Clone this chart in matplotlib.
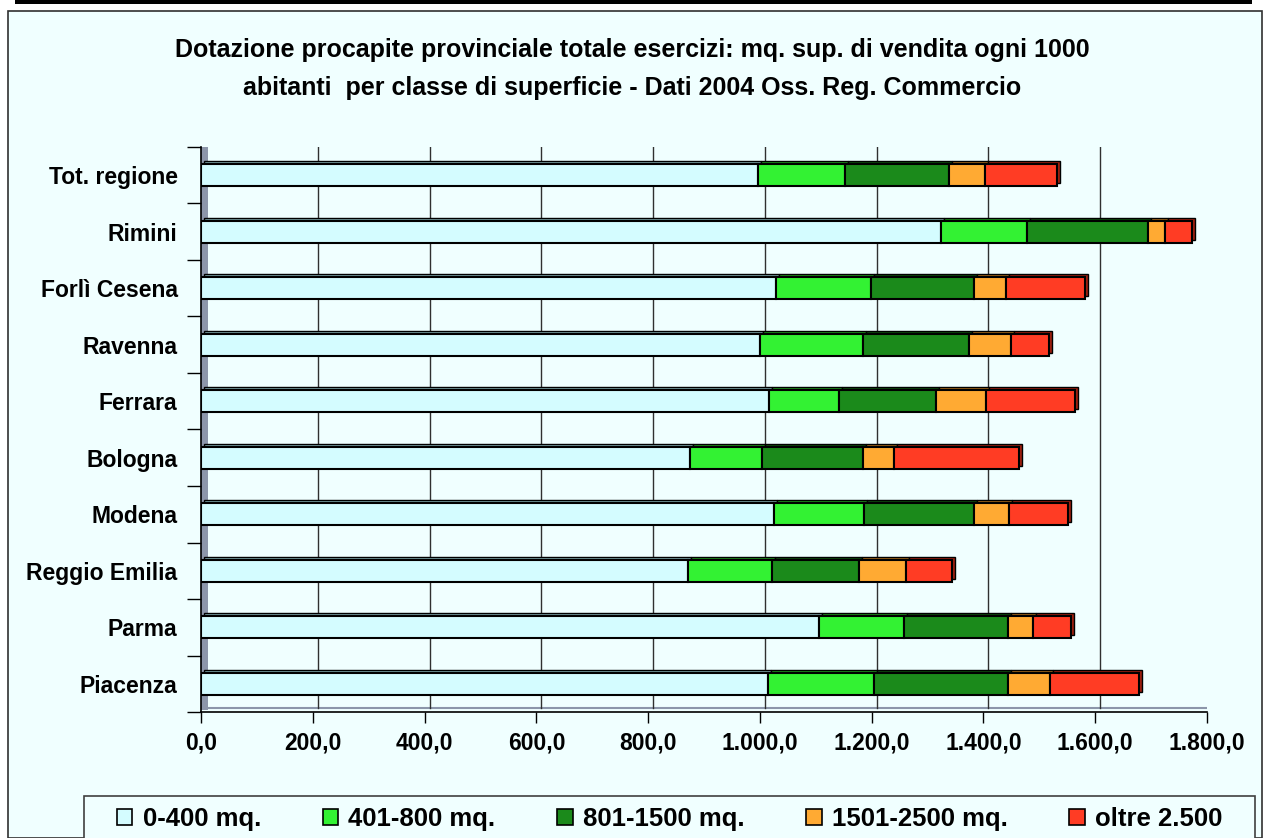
import matplotlib
matplotlib.use("Agg")
import matplotlib.pyplot as plt
from matplotlib.patches import Rectangle
from matplotlib.transforms import ScaledTranslation
import numpy as np

# ---------------- data ----------------
categories = ["Piacenza", "Parma", "Reggio Emilia", "Modena", "Bologna",
              "Ferrara", "Ravenna", "Forlì Cesena", "Rimini", "Tot. regione"]
series_names = ["0-400 mq.", "401-800 mq.", "801-1500 mq.", "1501-2500 mq.", "oltre 2.500"]
s_0_400 = [1014, 1105, 871, 1025, 874, 1016, 1000, 1029, 1324, 997]
s_401_800 = [190, 152, 151, 161, 130, 126, 184, 169, 154, 155]
s_801_1500 = [239, 187, 155, 197, 180, 173, 190, 185, 216, 186]
s_1501_2500 = [76, 44, 85, 63, 55, 90, 76, 58, 30, 65]
s_oltre = [159, 68, 82, 105, 225, 159, 68, 140, 50, 129]
xtick_values = [0, 200, 400, 600, 800, 1000, 1200, 1400, 1600, 1800]
xtick_labels = ["0,0", "200,0", "400,0", "600,0", "800,0", "1.000,0",
                "1.200,0", "1.400,0", "1.600,0", "1.800,0"]
title = ("Dotazione procapite provinciale totale esercizi: mq. sup. di vendita ogni 1000\n"
         "abitanti  per classe di superficie - Dati 2004 Oss. Reg. Commercio")

series = [s_0_400, s_401_800, s_801_1500, s_1501_2500, s_oltre]
colors = ["#D4FCFF", "#33F233", "#1B8A1B", "#FFAA33", "#FF3C24"]
dark_colors = ["#7FA8AC", "#1E9A1E", "#0E4F0E", "#A86A1A", "#A0200F"]

plt.rcParams['font.family'] = ['Liberation Sans', 'DejaVu Sans']
plt.rcParams['font.weight'] = 'bold'

W, H = 1265, 838
fig = plt.figure(figsize=(W / 100, H / 100), dpi=100)
bg = "#F0FFFF"
fig.patch.set_facecolor("white")

# chart area (background + border)
fig.patches.append(Rectangle((8 / W, 0), (1262 - 8) / W, 1 - 11 / H,
                             transform=fig.transFigure, facecolor=bg,
                             edgecolor="#303030", linewidth=1.2, zorder=-5))
# black bar at top (page rule)
fig.patches.append(Rectangle((15 / W, 1 - 4 / H), (1252 - 15) / W, 4 / H,
                             transform=fig.transFigure, facecolor="black",
                             edgecolor="none", zorder=-5))
# legend frame
fig.patches.append(Rectangle((84 / W, -0.01), (1255 - 84) / W, 0.01 + 1 - 796 / H,
                             transform=fig.transFigure, facecolor=bg,
                             edgecolor="#404040", linewidth=1.2, zorder=-4))

ax = fig.add_axes([201.2 / W, 1 - 712 / H, (1207 - 201.2) / W, (712 - 147) / H])
ax.set_facecolor("none")

y = np.arange(len(categories))
h = 0.39
dpi = fig.dpi

# back-wall offset transform
back = ScaledTranslation(5 / dpi, 4 / dpi, fig.dpi_scale_trans)
# back wall background + border
ax.add_patch(Rectangle((0, 0), 1, 1, transform=ax.transAxes + back,
                       facecolor=bg, edgecolor="#8C96AA", linewidth=1.5, zorder=0))
# gridlines on back wall
for v in xtick_values[1:-1]:
    ax.plot([v, v], [0, 1], transform=ax.get_xaxis_transform() + back,
            color="#303030", linewidth=1.0, zorder=1)
# left wall strip
ax.add_patch(Rectangle((0, 0), 0.0065, 1,
                       transform=ax.transAxes + ScaledTranslation(0, 2 / dpi, fig.dpi_scale_trans),
                       facecolor="#8C96AA", edgecolor="none", zorder=1))

# 3D depth of bars (shifted, darker)
depth = ScaledTranslation(3 / dpi, 3 / dpi, fig.dpi_scale_trans)
left = np.zeros(len(categories))
for vals, dc in zip(series, dark_colors):
    ax.barh(y, vals, height=h, left=left, color=dc, edgecolor="black",
            linewidth=1.0, zorder=2, transform=ax.transData + depth)
    left = left + np.array(vals)

# front bars
left = np.zeros(len(categories))
handles = []
for vals, c, name in zip(series, colors, series_names):
    b = ax.barh(y, vals, height=h, left=left, color=c, edgecolor="black",
                linewidth=1.5, zorder=3, label=name)
    handles.append(b)
    left = left + np.array(vals)

ax.set_xlim(0, 1800)
ax.set_ylim(-0.495, 9.495)

# spines
for s in ["top", "right"]:
    ax.spines[s].set_visible(False)
for s in ["bottom", "left"]:
    ax.spines[s].set_color("black")
    ax.spines[s].set_linewidth(1.2)
    ax.spines[s].set_zorder(4)

# x ticks
ax.set_xticks(xtick_values)
ax.set_xticklabels(xtick_labels, fontsize=16.5, fontweight="bold")
ax.tick_params(axis="x", direction="out", length=8, width=1, pad=6, colors="black")

# y ticks: major at boundaries, labels at centers (minor)
ax.set_yticks(np.arange(-0.5, len(categories), 1.0))
ax.set_yticklabels([])
ax.tick_params(axis="y", which="major", direction="out", length=10, width=1)
ax.set_yticks(y, minor=True)
ax.set_yticklabels(categories, minor=True, fontsize=16.5, fontweight="bold")
ax.tick_params(axis="y", which="minor", length=0, pad=17)

# title
fig.text(0.4996, 1 - 69 / H, title, ha="center", va="center",
         fontsize=18, fontweight="bold", linespacing=1.72)

leg = fig.legend(handles=handles, labels=series_names, loc="center left",
                 bbox_to_anchor=(117 / W, 1 - 819 / H), ncol=5, frameon=False,
                 prop={"size": 18.5, "weight": "bold"}, borderpad=0,
                 borderaxespad=0, handlelength=0.6, handleheight=0.6,
                 handletextpad=0.4, columnspacing=2.4)
for p in leg.get_patches():
    p.set_linewidth(1.2)

fig.savefig("out.png", dpi=100, facecolor=fig.get_facecolor())
